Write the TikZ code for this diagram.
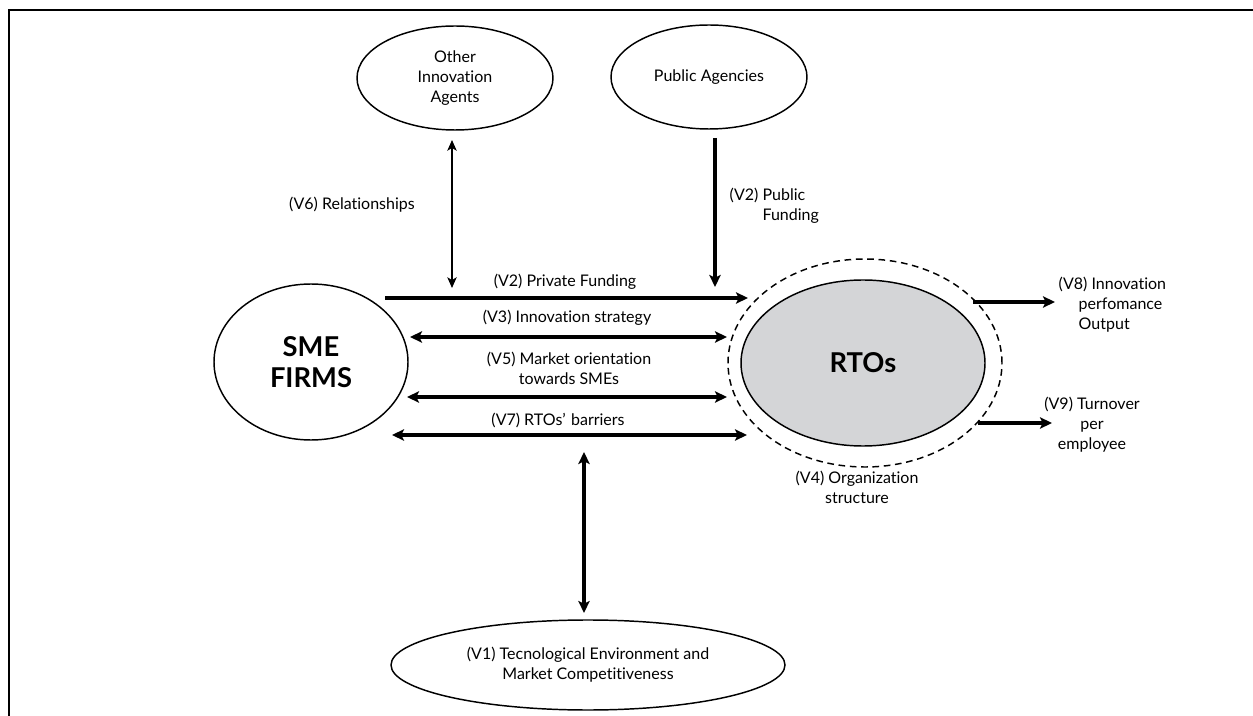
\documentclass[tikz,border=0pt]{standalone}
\usepackage{fontspec}
\setmainfont{Lato}[Ligatures=NoCommon]
\usetikzlibrary{shapes.geometric,arrows.meta}
\definecolor{rtogray}{RGB}{212,213,215}
\begin{document}
\begin{tikzpicture}[x=0.75pt,y=-0.75pt,>={Stealth[length=9pt,width=8.5pt,inset=2pt]},font=\fontsize{12}{15}\selectfont,
  oval/.style={ellipse,draw,line width=1.1pt,inner sep=0pt,align=center},
  flow/.style={line width=2.3pt},
  big/.style={font=\fontsize{20.5}{23}\selectfont\bfseries}]
\useasboundingbox (0,0) rectangle (1253,716);
\draw[line width=1.2pt] (1253,10)--(9,10)--(9,716);
\node[oval,minimum width=147pt,minimum height=78pt] (agents) at (455,78) {Other\\Innovation\\Agents};
\node[oval,minimum width=147pt,minimum height=78pt] (public) at (709,77) {Public Agencies};
\node[oval,big,minimum width=145.5pt,minimum height=117pt] (sme) at (311,362) {SME\\FIRMS};
\node[ellipse,draw,dashed,dash pattern=on 5pt off 3.5pt,line width=1.1pt,minimum width=205.5pt,minimum height=156pt] (org) at (865,363) {};
\node[oval,big,fill=rtogray,minimum width=183pt,minimum height=124.5pt] (rto) at (863,363) {RTOs};
\node[oval,minimum width=295.5pt,minimum height=67.5pt] (tech) at (588,665) {(V1) Tecnological Environment and\\Market Competitiveness};
\foreach \n/\x/\y in {pfA/385/298,pfB/748/298,isA/410/337,isB/727/337,moA/407/397,moB/727/397,rbA/392/435,rbB/747/435,
  reA/452/140,reB/452/288,puA/715/138,puB/715/287,tcA/584/452,tcB/584/613,ouA/973/302,ouB/1055/302,tuA/978/423,tuB/1052/423}
  {\coordinate (\n) at (\x,\y);}
\draw[flow,->] (pfA)--(pfB);
\draw[flow,<->] (isA)--(isB);
\draw[flow,<->] (moA)--(moB);
\draw[flow,<->] (rbA)--(rbB);
\draw[line width=1.1pt,{Stealth[length=8pt,width=7pt,inset=2pt]}-{Stealth[length=8pt,width=7pt,inset=2pt]}] (reA)--(reB);
\draw[flow,->] (puA)--(puB);
\draw[flow,<->] (tcA)--(tcB);
\draw[flow,->] (ouA)--(ouB);
\draw[flow,->] (tuA)--(tuB);
\node (lpf) at (565,282) {(V2) Private Funding};
\node (lis) at (567,318) {(V3) Innovation strategy};
\node[align=center] (lmo) at (569,368) {(V5) Market orientation\\towards SMEs};
\node (lrb) at (558,420) {(V7) RTOs’\,\,barriers};
\node (lre) at (352,205) {(V6) Relationships};
\node[anchor=west,align=left] (lpu) at (725,206) {(V2) Public\\\phantom{(V2) }Funding};
\node[align=center] (lor) at (857,487) {(V4) Organization\\structure};
\node[anchor=west,align=left] (lou) at (1054,305) {(V8) Innovation\\\hspace*{15pt}perfomance\\\hspace*{15pt}Output};
\node[align=center] (ltu) at (1092,425) {(V9) Turnover\\per\\employee};
\end{tikzpicture}
\end{document}
